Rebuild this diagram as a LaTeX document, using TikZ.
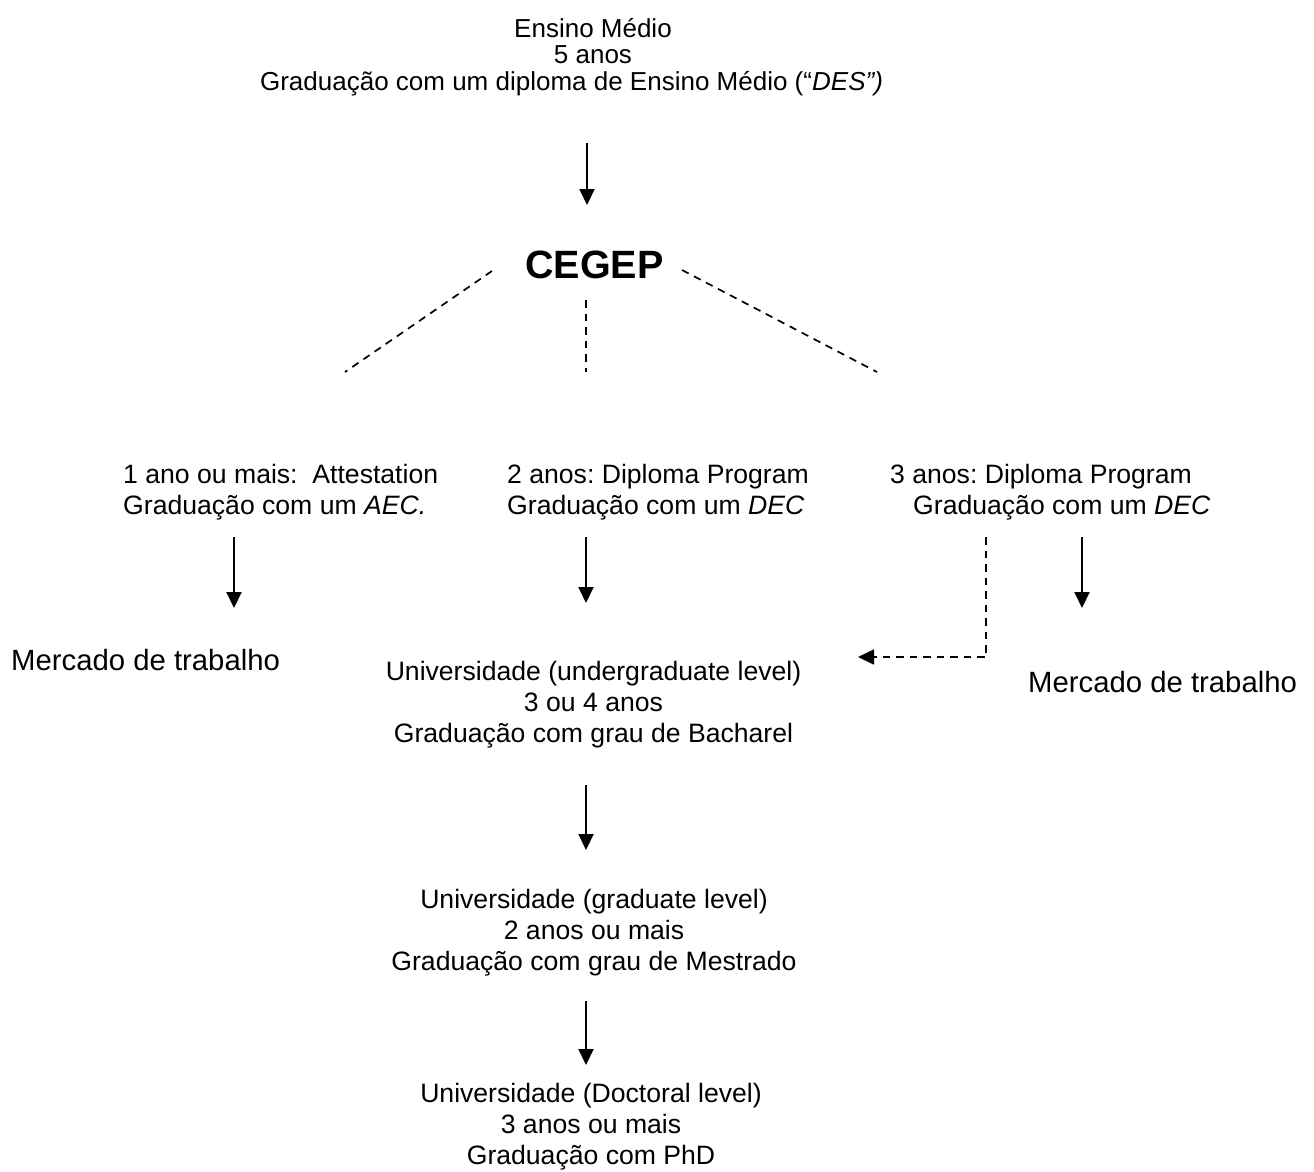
\documentclass[tikz,border=0pt]{standalone}
\usepackage{fontspec}
\setmainfont{Liberation Sans}
\frenchspacing
\usetikzlibrary{arrows.meta}
\begin{document}
\begin{tikzpicture}[x=1pt,y=-1pt,
  txt/.style={inner sep=0pt, font=\fontsize{26.6}{31}\selectfont},
  big/.style={inner sep=0pt, font=\fontsize{29.3}{34}\selectfont},
  arr/.style={line width=1.9pt, -{Triangle[length=16pt,width=15pt]}},
  dsh/.style={line width=1.7pt, dash pattern=on 7.5pt off 6pt},
]
\path[use as bounding box, fill=white] (0,0) rectangle (1314,1171);

% texts (anchor base = baseline of the last line)
\node[txt, font=\fontsize{26}{26.5}\selectfont, align=center, anchor=base] (top) at (593,90)
  {Ensino Médio\\5 anos\\Graduação com um diploma de Ensino Médio (“\textit{DES”)}\hspace*{43pt}};
\node[inner sep=0pt, font=\fontsize{39.5}{44}\selectfont\bfseries, anchor=base] (cegep) at (594.5,278) {CEGEP};

\node[txt, align=left, anchor=base west] (aec) at (123,514)
  {1 ano ou mais:\ \ Attestation\\Graduação com um \textit{AEC.}};
\node[txt, align=left, anchor=base west] (dec2) at (507,514)
  {2 anos: Diploma Program\\Graduação com um \textit{DEC}};
\node[txt, align=left, anchor=base west] (dec3) at (890,514)
  {3 anos: Diploma Program\\\hspace*{23pt}Graduação com um \textit{DEC}};

\node[big, anchor=base west] (merc1) at (11,670) {Mercado de trabalho};
\node[big, anchor=base west] (merc2) at (1028,692) {Mercado de trabalho};

\node[txt, align=center, anchor=base] (bach) at (593.5,742)
  {Universidade (undergraduate level)\\3 ou 4 anos\\Graduação com grau de Bacharel};
\node[txt, align=center, anchor=base] (mest) at (594,970)
  {Universidade (graduate level)\\2 anos ou mais\\Graduação com grau de Mestrado};
\node[txt, align=center, anchor=base] (phd) at (591,1164)
  {Universidade (Doctoral level)\\3 anos ou mais\\Graduação com PhD};

% connector end points
\coordinate (t0) at (587,143);  \coordinate (t1) at (587,205);
\coordinate (cl0) at (492,271); \coordinate (cl1) at (345,372);
\coordinate (cm0) at (586,300); \coordinate (cm1) at (586,372);
\coordinate (cr0) at (682,270); \coordinate (cr1) at (877,372);
\coordinate (l0) at (234,537);  \coordinate (l1) at (234,608);
\coordinate (m0) at (586,537);  \coordinate (m1) at (586,603);
\coordinate (r0) at (1082,537); \coordinate (r1) at (1082,608);
\coordinate (d0) at (986,537);  \coordinate (d1) at (858,657);
\coordinate (u0) at (586,785);  \coordinate (u1) at (586,850);
\coordinate (g0) at (586,1001); \coordinate (g1) at (586,1065);

\draw[arr] (t0) -- (t1);
\draw[dsh] (cl0) -- (cl1);
\draw[dsh] (cm0) -- (cm1);
\draw[dsh] (cr0) -- (cr1);
\draw[arr] (l0) -- (l1);
\draw[arr] (m0) -- (m1);
\draw[arr] (r0) -- (r1);
\draw[dsh, -{Triangle[length=16pt,width=15pt]}] (d0) |- (d1);
\draw[arr] (u0) -- (u1);
\draw[arr] (g0) -- (g1);
\end{tikzpicture}
\end{document}
